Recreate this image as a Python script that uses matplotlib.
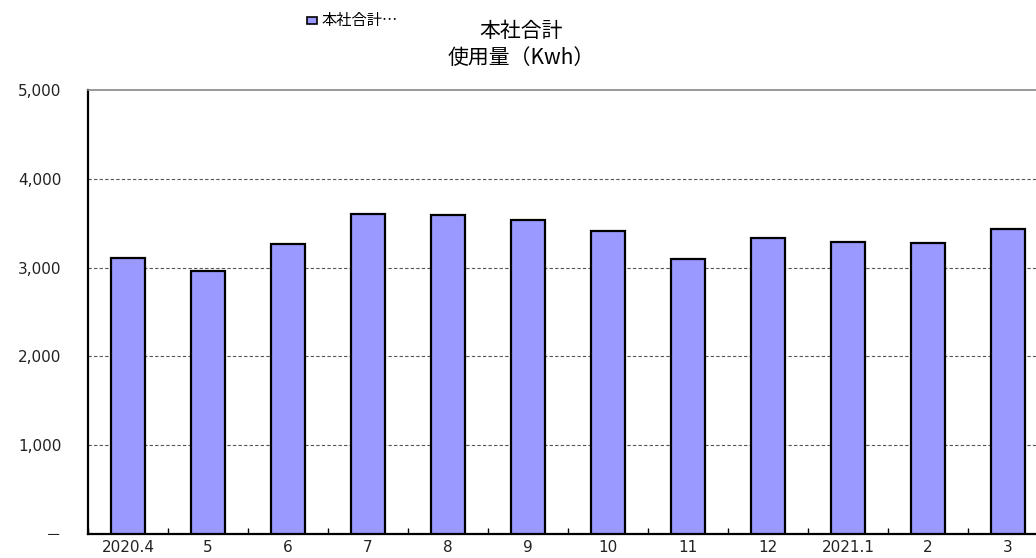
import numpy as np
import matplotlib.pyplot as plt
from matplotlib.patches import Rectangle

plt.rcParams['font.family'] = ['Noto Sans CJK JP', 'DejaVu Sans']

# Data
months = ['2020.4', '5', '6', '7', '8', '9', '10', '11', '12', '2021.1', '2', '3']
usage = [3110, 2960, 3270, 3600, 3590, 3540, 3415, 3100, 3335, 3290, 3278, 3435]
y_ticks = [0, 1000, 2000, 3000, 4000, 5000]
y_labels = ['－', '1,000', '2,000', '3,000', '4,000', '5,000']

fig = plt.figure(figsize=(10.36, 5.58), dpi=100)
ax = fig.add_axes([88 / 1036, 1 - 534 / 558, 960 / 1036, 444 / 558])

x = np.arange(len(months))
ax.bar(x, usage, width=0.42, color='#9999FF', edgecolor='black', linewidth=1.6, zorder=3)

ax.set_xlim(-0.5, len(months) - 0.5)
ax.set_ylim(0, 5000)

# gridlines
for yv in y_ticks[1:-1]:
    ax.axhline(yv, color='#555555', linestyle=(0, (3, 2)), linewidth=0.8, zorder=1)

# ticks: marks at category boundaries, labels at centers
tick_font = dict(family=['DejaVu Sans', 'Noto Sans CJK JP'], size=11, color='#222222')
ax.set_xticks(np.arange(len(months) + 1) - 0.5)
ax.set_xticklabels([])
ax.set_xticks(x, minor=True)
ax.set_xticklabels(months, minor=True, fontdict=tick_font)
ax.tick_params(axis='x', which='major', direction='in', length=4, width=1, color='black')
ax.tick_params(axis='x', which='minor', length=0, pad=4)

ax.set_yticks(y_ticks)
ax.set_yticklabels(y_labels, fontdict=tick_font)
ax.tick_params(axis='y', length=0, pad=19)

ax.spines['left'].set_linewidth(1.6)
ax.spines['bottom'].set_linewidth(1.6)
ax.spines['top'].set_color('#888888')
ax.spines['top'].set_linewidth(1.2)
ax.spines['right'].set_visible(False)

# title
fig.text(521 / 1036, 1 - 31 / 558, '本社合計', ha='center', va='center', fontsize=15)
fig.text(521 / 1036, 1 - 58 / 558, '使用量（Kwh）', ha='center', va='center', fontsize=15)

# legend
fig.patches.append(Rectangle((307 / 1036, 1 - 24 / 558), 10 / 1036, 7 / 558,
                             transform=fig.transFigure, facecolor='#9999FF',
                             edgecolor='black', linewidth=1.2))
fig.text(322 / 1036, 1 - 20 / 558, '本社合計…', ha='left', va='center', fontsize=11)

fig.savefig('out.png', dpi=100)
